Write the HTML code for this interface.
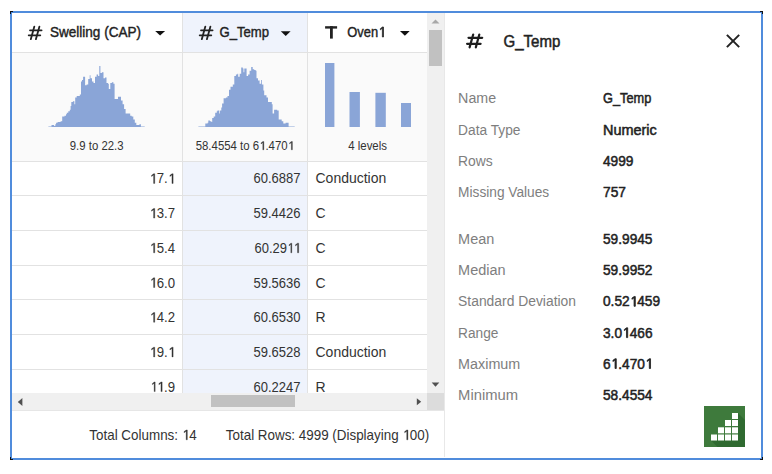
<!DOCTYPE html>
<html><head><meta charset="utf-8"><style>
html,body{margin:0;padding:0;}
body{width:772px;height:474px;position:relative;overflow:hidden;background:#fff;font-family:"Liberation Sans", sans-serif;}
.a{position:absolute;}
svg{position:absolute;left:0;top:0;}
svg text{font-family:"Liberation Sans", sans-serif;}
.o{fill-opacity:0;stroke-opacity:0;}
</style></head><body>
<div class="a" style="left:12px;top:13px;width:171px;height:40px;background:#fff"></div>
<div class="a" style="left:183px;top:13px;width:125px;height:39px;background:#eff3fc"></div>
<div class="a" style="left:12px;top:53px;width:415px;height:108px;background:#fafafa"></div>
<div class="a" style="left:183px;top:162px;width:125px;height:231px;background:#eff3fc"></div>
<div class="a" style="left:12px;top:52px;width:415px;height:1px;background:#e2e2e2"></div>
<div class="a" style="left:12px;top:161px;width:415px;height:1px;background:#e2e2e2"></div>
<div class="a" style="left:12px;top:195px;width:415px;height:1px;background:#e2e2e2"></div>
<div class="a" style="left:12px;top:230px;width:415px;height:1px;background:#e2e2e2"></div>
<div class="a" style="left:12px;top:265px;width:415px;height:1px;background:#e2e2e2"></div>
<div class="a" style="left:12px;top:299px;width:415px;height:1px;background:#e2e2e2"></div>
<div class="a" style="left:12px;top:334px;width:415px;height:1px;background:#e2e2e2"></div>
<div class="a" style="left:12px;top:369px;width:415px;height:1px;background:#e2e2e2"></div>

<div class="a" style="left:182px;top:13px;width:1px;height:380px;background:#e2e2e2"></div>
<div class="a" style="left:307px;top:13px;width:1px;height:380px;background:#e2e2e2"></div>
<!-- scrollbars -->
<div class="a" style="left:427px;top:13px;width:17px;height:380px;background:#f0f0f0"></div>
<div class="a" style="left:429px;top:30px;width:13px;height:36px;background:#c1c1c1"></div>
<div class="a" style="left:12px;top:393px;width:415px;height:17px;background:#f0f0f0"></div>
<div class="a" style="left:12px;top:410px;width:432px;height:1px;background:#e6e6e6"></div>
<div class="a" style="left:211px;top:395px;width:84px;height:12px;background:#c1c1c1"></div>
<div class="a" style="left:427px;top:393px;width:17px;height:17px;background:#dcdcdc"></div>
<div class="a" style="left:444px;top:13px;width:1px;height:444px;background:#e8e8e8"></div>
<!-- green icon -->
<div class="a" style="left:704px;top:406px;width:41px;height:41px;background:#3e7a3c;overflow:hidden">
<svg width="41" height="41" viewBox="0 0 41 41" style="position:absolute;left:0;top:0">
<polygon points="7,34.5 34,34.5 34,7 41,14 41,41 13.5,41" fill="#2f6a30"/>
<g fill="#fff">
<rect x="7" y="28.5" width="6" height="6"/><rect x="14" y="28.5" width="6" height="6"/><rect x="21" y="28.5" width="6" height="6"/><rect x="28" y="28.5" width="6" height="6"/>
<rect x="14" y="21.3" width="6" height="6"/><rect x="21" y="21.3" width="6" height="6"/><rect x="28" y="21.3" width="6" height="6"/>
<rect x="21" y="14" width="6" height="6"/><rect x="28" y="14" width="6" height="6"/>
<rect x="28" y="7" width="6" height="6"/>
</g></svg></div>
<!-- frame -->
<div class="a" style="left:10px;top:11px;width:749px;height:445px;border:2px solid #508cdc"></div>
<svg width="772" height="474" viewBox="0 0 772 474">
<g fill="#111">
<path d="M10 11h3v1h-2v2h-1z"/>
<path d="M763 11v3h-1v-2h-2v-1z"/>
<path d="M10 460v-3h1v2h2v1z"/>
<path d="M763 460h-3v-1h2v-2h1z"/>
</g>
<path d="M48.4 127.0 V126.5 H50.7 V126.5 H51.5 V125.0 H53.5 V125.0 H54.1 V126.1 H55.3 V124.2 H56.1 V122.7 H57.6 V121.9 H60.6 V121.2 H62.2 V116.6 H64.5 V115.8 H66.0 V114.3 H66.8 V112.8 H68.3 V111.2 H69.8 V109.7 H70.6 V105.9 H71.3 V102.0 H72.9 V101.3 H74.4 V104.3 H75.2 V97.5 H76.7 V95.9 H79.8 V94.4 H81.0 V81.4 H82.0 V79.9 H83.1 V76.8 H84.3 V76.8 H85.1 V85.2 H86.6 V84.5 H88.2 V79.1 H89.7 V75.3 H90.5 V78.3 H92.0 V81.4 H93.5 V82.9 H95.0 V76.8 H96.6 V74.5 H98.1 V76.1 H99.3 V66.1 H100.4 V73.0 H101.9 V72.2 H103.5 V78.3 H105.0 V77.6 H106.5 V82.9 H108.0 V83.7 H108.8 V89.1 H110.3 V82.9 H111.9 V82.2 H113.4 V83.7 H114.6 V99.0 H116.5 V99.0 H118.0 V96.7 H119.5 V96.7 H121.0 V100.5 H122.6 V104.3 H124.1 V108.9 H125.6 V113.5 H128.7 V113.5 H130.2 V115.8 H131.7 V116.6 H133.3 V119.6 H134.8 V122.7 H136.3 V125.0 H139.4 V124.2 H140.9 V126.5 H144.7 V126.5 V127.0 Z" fill="#8aa5d7"/>
<path d="M198.4 127.0 V126.5 H203.0 V126.5 H205.3 V123.5 H207.6 V122.7 H208.3 V120.4 H209.9 V121.2 H211.4 V121.9 H212.2 V118.1 H213.7 V116.6 H215.2 V112.8 H216.8 V111.2 H217.5 V110.5 H219.1 V113.5 H219.8 V110.5 H221.3 V107.4 H222.1 V103.6 H223.6 V98.2 H225.9 V97.5 H227.5 V95.9 H229.0 V89.8 H230.5 V86.8 H232.8 V84.5 H234.3 V76.1 H235.9 V74.5 H237.4 V73.8 H238.2 V76.8 H239.7 V73.8 H241.2 V67.6 H242.8 V68.4 H243.5 V72.2 H244.3 V68.4 H245.4 V68.4 H246.6 V76.1 H248.1 V74.5 H249.6 V70.7 H251.2 V66.9 H252.7 V69.2 H254.2 V69.9 H255.7 V70.7 H256.5 V78.3 H258.0 V80.6 H259.6 V83.7 H261.1 V79.9 H261.9 V84.5 H263.4 V90.6 H264.2 V95.2 H266.5 V97.5 H268.0 V102.0 H270.3 V102.0 H271.8 V104.3 H272.6 V113.5 H274.1 V109.7 H277.2 V110.5 H278.7 V119.6 H281.7 V121.2 H283.3 V123.5 H285.6 V122.7 H287.9 V122.7 H288.6 V126.5 H290.9 V126.5 H294.7 V126.5 V127.0 Z" fill="#8aa5d7"/>
<g fill="#8aa5d7">
<rect x="325" y="63" width="9.4" height="64"/>
<rect x="349.5" y="92" width="10.4" height="35"/>
<rect x="375.4" y="92.8" width="10.4" height="34.2"/>
<rect x="401" y="103" width="10" height="24"/>
</g>
<g stroke="#222" stroke-width="1.80" stroke-linecap="round"><line x1="30.00" y1="30.30" x2="41.60" y2="30.30"/><line x1="28.70" y1="35.30" x2="40.30" y2="35.30"/><line x1="34.35" y1="26.60" x2="30.80" y2="39.20"/><line x1="39.45" y1="26.60" x2="35.90" y2="39.20"/></g>
<g stroke="#222" stroke-width="1.80" stroke-linecap="round"><line x1="201.00" y1="30.30" x2="212.60" y2="30.30"/><line x1="199.70" y1="35.30" x2="211.30" y2="35.30"/><line x1="205.35" y1="26.60" x2="201.80" y2="39.20"/><line x1="210.45" y1="26.60" x2="206.90" y2="39.20"/></g>
<g fill="#222"><rect x="325.1" y="26.2" width="12" height="2.4"/><rect x="330" y="26.2" width="2.8" height="12.4"/></g>
<polygon points="155.2,30.9 165.1,30.9 160.1,35.6" fill="#111"/>
<polygon points="280.8,31.2 290.6,31.2 285.7,35.9" fill="#111"/>
<polygon points="400.0,31.0 409.7,31.0 404.9,35.7" fill="#111"/>
<polygon points="431.5,23.5 439.5,23.5 435.5,19.5" fill="#a8a8a8"/>
<polygon points="431.7,382.6 439.3,382.6 435.5,386.7" fill="#505050"/>
<polygon points="22.4,398 22.4,406 17.8,402" fill="#505050"/>
<polygon points="416.8,398.3 416.8,405.3 421.2,401.8" fill="#505050"/>
<g stroke="#222" stroke-width="2" stroke-linecap="butt"><line x1="726.9" y1="34.9" x2="739.2" y2="47.1"/><line x1="739.2" y1="34.9" x2="726.9" y2="47.1"/></g>
<g stroke="#1e1e1e" stroke-width="2.2" stroke-linecap="round">
<line x1="468.5" y1="37.8" x2="482.2" y2="37.8"/><line x1="467.1" y1="43.8" x2="480.6" y2="43.8"/>
<line x1="473.2" y1="34.5" x2="469.6" y2="47.4"/><line x1="479.3" y1="34.5" x2="475.8" y2="47.4"/>
</g>
<text x="50.0" y="37.0" font-size="14.50" text-anchor="start" font-weight="normal" fill="#222222" stroke="#222222" stroke-width="0.42" textLength="91.0" lengthAdjust="spacingAndGlyphs">Swelling (CAP)</text><text x="219.5" y="37.0" font-size="14.50" text-anchor="start" font-weight="normal" fill="#222222" stroke="#222222" stroke-width="0.42" textLength="49.5" lengthAdjust="spacingAndGlyphs">G_Temp</text><text x="347.3" y="37.0" font-size="14.50" text-anchor="start" font-weight="normal" fill="#222222" stroke="#222222" stroke-width="0.42" textLength="38.0" lengthAdjust="spacingAndGlyphs">Oven<tspan class="o">1</tspan></text><text x="69.8" y="149.8" font-size="12.00" text-anchor="start" font-weight="normal" fill="#333333" textLength="53.7" lengthAdjust="spacingAndGlyphs">9.9 to 22.3</text><text x="195.7" y="149.8" font-size="12.00" text-anchor="start" font-weight="normal" fill="#333333" textLength="98.3" lengthAdjust="spacingAndGlyphs">58.4554 to 6<tspan class="o">1</tspan>.470<tspan class="o">1</tspan></text><text x="348.2" y="149.8" font-size="12.00" text-anchor="start" font-weight="normal" fill="#333333" textLength="38.8" lengthAdjust="spacingAndGlyphs">4 levels</text><text x="175.0" y="183.4" font-size="14.00" text-anchor="end" font-weight="normal" fill="#333333" textLength="25.7" lengthAdjust="spacingAndGlyphs"><tspan class="o">1</tspan>7.<tspan class="o">1</tspan></text><text x="300.5" y="183.4" font-size="14.00" text-anchor="end" font-weight="normal" fill="#333333" textLength="47.0" lengthAdjust="spacingAndGlyphs">60.6887</text><text x="315.5" y="183.4" font-size="14.20" text-anchor="start" font-weight="normal" fill="#333333" textLength="70.8" lengthAdjust="spacingAndGlyphs">Conduction</text><text x="175.0" y="218.1" font-size="14.00" text-anchor="end" font-weight="normal" fill="#333333" textLength="25.7" lengthAdjust="spacingAndGlyphs"><tspan class="o">1</tspan>3.7</text><text x="300.5" y="218.1" font-size="14.00" text-anchor="end" font-weight="normal" fill="#333333" textLength="47.0" lengthAdjust="spacingAndGlyphs">59.4426</text><text x="315.5" y="218.1" font-size="14.20" text-anchor="start" font-weight="normal" fill="#333333" textLength="10.1" lengthAdjust="spacingAndGlyphs">C</text><text x="175.0" y="252.8" font-size="14.00" text-anchor="end" font-weight="normal" fill="#333333" textLength="25.7" lengthAdjust="spacingAndGlyphs"><tspan class="o">1</tspan>5.4</text><text x="300.5" y="252.8" font-size="14.00" text-anchor="end" font-weight="normal" fill="#333333" textLength="46.0" lengthAdjust="spacingAndGlyphs">60.29<tspan class="o">1</tspan><tspan class="o">1</tspan></text><text x="315.5" y="252.8" font-size="14.20" text-anchor="start" font-weight="normal" fill="#333333" textLength="10.1" lengthAdjust="spacingAndGlyphs">C</text><text x="175.0" y="287.5" font-size="14.00" text-anchor="end" font-weight="normal" fill="#333333" textLength="25.7" lengthAdjust="spacingAndGlyphs"><tspan class="o">1</tspan>6.0</text><text x="300.5" y="287.5" font-size="14.00" text-anchor="end" font-weight="normal" fill="#333333" textLength="47.0" lengthAdjust="spacingAndGlyphs">59.5636</text><text x="315.5" y="287.5" font-size="14.20" text-anchor="start" font-weight="normal" fill="#333333" textLength="10.1" lengthAdjust="spacingAndGlyphs">C</text><text x="175.0" y="322.2" font-size="14.00" text-anchor="end" font-weight="normal" fill="#333333" textLength="25.7" lengthAdjust="spacingAndGlyphs"><tspan class="o">1</tspan>4.2</text><text x="300.5" y="322.2" font-size="14.00" text-anchor="end" font-weight="normal" fill="#333333" textLength="47.0" lengthAdjust="spacingAndGlyphs">60.6530</text><text x="315.5" y="322.2" font-size="14.20" text-anchor="start" font-weight="normal" fill="#333333" textLength="10.1" lengthAdjust="spacingAndGlyphs">R</text><text x="175.0" y="356.9" font-size="14.00" text-anchor="end" font-weight="normal" fill="#333333" textLength="25.7" lengthAdjust="spacingAndGlyphs"><tspan class="o">1</tspan>9.<tspan class="o">1</tspan></text><text x="300.5" y="356.9" font-size="14.00" text-anchor="end" font-weight="normal" fill="#333333" textLength="47.0" lengthAdjust="spacingAndGlyphs">59.6528</text><text x="315.5" y="356.9" font-size="14.20" text-anchor="start" font-weight="normal" fill="#333333" textLength="70.8" lengthAdjust="spacingAndGlyphs">Conduction</text><text x="175.0" y="391.6" font-size="14.00" text-anchor="end" font-weight="normal" fill="#333333" textLength="24.7" lengthAdjust="spacingAndGlyphs"><tspan class="o">1</tspan><tspan class="o">1</tspan>.9</text><text x="300.5" y="391.6" font-size="14.00" text-anchor="end" font-weight="normal" fill="#333333" textLength="47.0" lengthAdjust="spacingAndGlyphs">60.2247</text><text x="315.5" y="391.6" font-size="14.20" text-anchor="start" font-weight="normal" fill="#333333" textLength="10.1" lengthAdjust="spacingAndGlyphs">R</text><text x="89.3" y="439.8" font-size="14.30" text-anchor="start" font-weight="normal" fill="#333333" textLength="107.4" lengthAdjust="spacingAndGlyphs">Total Columns: <tspan class="o">1</tspan>4</text><text x="225.8" y="439.8" font-size="14.30" text-anchor="start" font-weight="normal" fill="#333333" textLength="203.4" lengthAdjust="spacingAndGlyphs">Total Rows: 4999 (Displaying <tspan class="o">1</tspan>00)</text><text x="503.5" y="47.0" font-size="15.80" text-anchor="start" font-weight="normal" fill="#222222" stroke="#222222" stroke-width="0.5" textLength="56.8" lengthAdjust="spacingAndGlyphs">G_Temp</text><text x="458.1" y="103.2" font-size="14.00" text-anchor="start" font-weight="normal" fill="#7e7e7e" textLength="38.0" lengthAdjust="spacingAndGlyphs">Name</text><text x="603.0" y="103.2" font-size="14.20" text-anchor="start" font-weight="normal" fill="#222222" stroke="#222222" stroke-width="0.5" textLength="48.3" lengthAdjust="spacingAndGlyphs">G_Temp</text><text x="458.1" y="134.7" font-size="14.00" text-anchor="start" font-weight="normal" fill="#7e7e7e" textLength="62.4" lengthAdjust="spacingAndGlyphs">Data Type</text><text x="603.0" y="134.7" font-size="14.20" text-anchor="start" font-weight="normal" fill="#222222" stroke="#222222" stroke-width="0.5" textLength="53.8" lengthAdjust="spacingAndGlyphs">Numeric</text><text x="458.1" y="165.6" font-size="14.00" text-anchor="start" font-weight="normal" fill="#7e7e7e" textLength="34.7" lengthAdjust="spacingAndGlyphs">Rows</text><text x="603.0" y="165.6" font-size="14.20" text-anchor="start" font-weight="normal" fill="#222222" stroke="#222222" stroke-width="0.5" textLength="30.5" lengthAdjust="spacingAndGlyphs">4999</text><text x="458.1" y="197.0" font-size="14.00" text-anchor="start" font-weight="normal" fill="#7e7e7e" textLength="91.1" lengthAdjust="spacingAndGlyphs">Missing Values</text><text x="603.0" y="197.0" font-size="14.20" text-anchor="start" font-weight="normal" fill="#222222" stroke="#222222" stroke-width="0.5" textLength="22.9" lengthAdjust="spacingAndGlyphs">757</text><text x="458.1" y="243.5" font-size="14.00" text-anchor="start" font-weight="normal" fill="#7e7e7e" textLength="36.2" lengthAdjust="spacingAndGlyphs">Mean</text><text x="603.0" y="243.5" font-size="14.20" text-anchor="start" font-weight="normal" fill="#222222" stroke="#222222" stroke-width="0.5" textLength="49.5" lengthAdjust="spacingAndGlyphs">59.9945</text><text x="458.1" y="275.2" font-size="14.00" text-anchor="start" font-weight="normal" fill="#7e7e7e" textLength="47.5" lengthAdjust="spacingAndGlyphs">Median</text><text x="603.0" y="275.2" font-size="14.20" text-anchor="start" font-weight="normal" fill="#222222" stroke="#222222" stroke-width="0.5" textLength="49.5" lengthAdjust="spacingAndGlyphs">59.9952</text><text x="458.1" y="306.3" font-size="14.00" text-anchor="start" font-weight="normal" fill="#7e7e7e" textLength="117.9" lengthAdjust="spacingAndGlyphs">Standard Deviation</text><text x="603.0" y="306.3" font-size="14.20" text-anchor="start" font-weight="normal" fill="#222222" stroke="#222222" stroke-width="0.5" textLength="57.1" lengthAdjust="spacingAndGlyphs">0.52<tspan class="o">1</tspan>459</text><text x="458.1" y="337.6" font-size="14.00" text-anchor="start" font-weight="normal" fill="#7e7e7e" textLength="40.3" lengthAdjust="spacingAndGlyphs">Range</text><text x="603.0" y="337.6" font-size="14.20" text-anchor="start" font-weight="normal" fill="#222222" stroke="#222222" stroke-width="0.5" textLength="49.5" lengthAdjust="spacingAndGlyphs">3.0<tspan class="o">1</tspan>466</text><text x="458.1" y="368.5" font-size="14.00" text-anchor="start" font-weight="normal" fill="#7e7e7e" textLength="62.2" lengthAdjust="spacingAndGlyphs">Maximum</text><text x="603.0" y="368.5" font-size="14.20" text-anchor="start" font-weight="normal" fill="#222222" stroke="#222222" stroke-width="0.5" textLength="49.5" lengthAdjust="spacingAndGlyphs">6<tspan class="o">1</tspan>.470<tspan class="o">1</tspan></text><text x="458.1" y="399.6" font-size="14.00" text-anchor="start" font-weight="normal" fill="#7e7e7e" textLength="60.0" lengthAdjust="spacingAndGlyphs">Minimum</text><text x="603.0" y="399.6" font-size="14.20" text-anchor="start" font-weight="normal" fill="#222222" stroke="#222222" stroke-width="0.5" textLength="49.5" lengthAdjust="spacingAndGlyphs">58.4554</text>
<path transform="translate(379.13 37.00) scale(0.00630 -0.00708)" d="M515 0V1237L197 1010V1180L530 1409H696V0Z" fill="#222222" stroke="#222222" stroke-width="108.76"/><path transform="translate(259.94 149.80) scale(0.00558 -0.00586)" d="M515 0V1237L197 1010V1180L530 1409H696V0Z" fill="#333333" stroke="#333333" stroke-width="59.73"/><path transform="translate(288.49 149.80) scale(0.00558 -0.00586)" d="M515 0V1237L197 1010V1180L530 1409H696V0Z" fill="#333333" stroke="#333333" stroke-width="59.73"/><path transform="translate(150.28 183.40) scale(0.00644 -0.00684)" d="M515 0V1237L197 1010V1180L530 1409H696V0Z" fill="#333333" stroke="#333333" stroke-width="51.20"/><path transform="translate(168.64 183.40) scale(0.00644 -0.00684)" d="M515 0V1237L197 1010V1180L530 1409H696V0Z" fill="#333333" stroke="#333333" stroke-width="51.20"/><path transform="translate(150.28 218.10) scale(0.00644 -0.00684)" d="M515 0V1237L197 1010V1180L530 1409H696V0Z" fill="#333333" stroke="#333333" stroke-width="51.20"/><path transform="translate(150.28 252.80) scale(0.00644 -0.00684)" d="M515 0V1237L197 1010V1180L530 1409H696V0Z" fill="#333333" stroke="#333333" stroke-width="51.20"/><path transform="translate(287.99 252.80) scale(0.00550 -0.00684)" d="M515 0V1237L197 1010V1180L530 1409H696V0Z" fill="#333333" stroke="#333333" stroke-width="51.20"/><path transform="translate(294.25 252.80) scale(0.00635 -0.00684)" d="M515 0V1237L197 1010V1180L530 1409H696V0Z" fill="#333333" stroke="#333333" stroke-width="51.20"/><path transform="translate(150.28 287.50) scale(0.00644 -0.00684)" d="M515 0V1237L197 1010V1180L530 1409H696V0Z" fill="#333333" stroke="#333333" stroke-width="51.20"/><path transform="translate(150.28 322.20) scale(0.00644 -0.00684)" d="M515 0V1237L197 1010V1180L530 1409H696V0Z" fill="#333333" stroke="#333333" stroke-width="51.20"/><path transform="translate(150.28 356.90) scale(0.00644 -0.00684)" d="M515 0V1237L197 1010V1180L530 1409H696V0Z" fill="#333333" stroke="#333333" stroke-width="51.20"/><path transform="translate(168.64 356.90) scale(0.00644 -0.00684)" d="M515 0V1237L197 1010V1180L530 1409H696V0Z" fill="#333333" stroke="#333333" stroke-width="51.20"/><path transform="translate(151.28 391.60) scale(0.00558 -0.00684)" d="M515 0V1237L197 1010V1180L530 1409H696V0Z" fill="#333333" stroke="#333333" stroke-width="51.20"/><path transform="translate(157.64 391.60) scale(0.00645 -0.00684)" d="M515 0V1237L197 1010V1180L530 1409H696V0Z" fill="#333333" stroke="#333333" stroke-width="51.20"/><path transform="translate(182.77 439.80) scale(0.00655 -0.00698)" d="M515 0V1237L197 1010V1180L530 1409H696V0Z" fill="#333333" stroke="#333333" stroke-width="50.13"/><path transform="translate(403.37 439.80) scale(0.00655 -0.00698)" d="M515 0V1237L197 1010V1180L530 1409H696V0Z" fill="#333333" stroke="#333333" stroke-width="50.13"/><path transform="translate(630.64 306.30) scale(0.00668 -0.00693)" d="M515 0V1237L197 1010V1180L530 1409H696V0Z" fill="#222222" stroke="#222222" stroke-width="122.59"/><path transform="translate(623.04 337.60) scale(0.00668 -0.00693)" d="M515 0V1237L197 1010V1180L530 1409H696V0Z" fill="#222222" stroke="#222222" stroke-width="122.59"/><path transform="translate(611.61 368.50) scale(0.00668 -0.00693)" d="M515 0V1237L197 1010V1180L530 1409H696V0Z" fill="#222222" stroke="#222222" stroke-width="122.59"/><path transform="translate(645.88 368.50) scale(0.00668 -0.00693)" d="M515 0V1237L197 1010V1180L530 1409H696V0Z" fill="#222222" stroke="#222222" stroke-width="122.59"/>
</svg>
</body></html>
